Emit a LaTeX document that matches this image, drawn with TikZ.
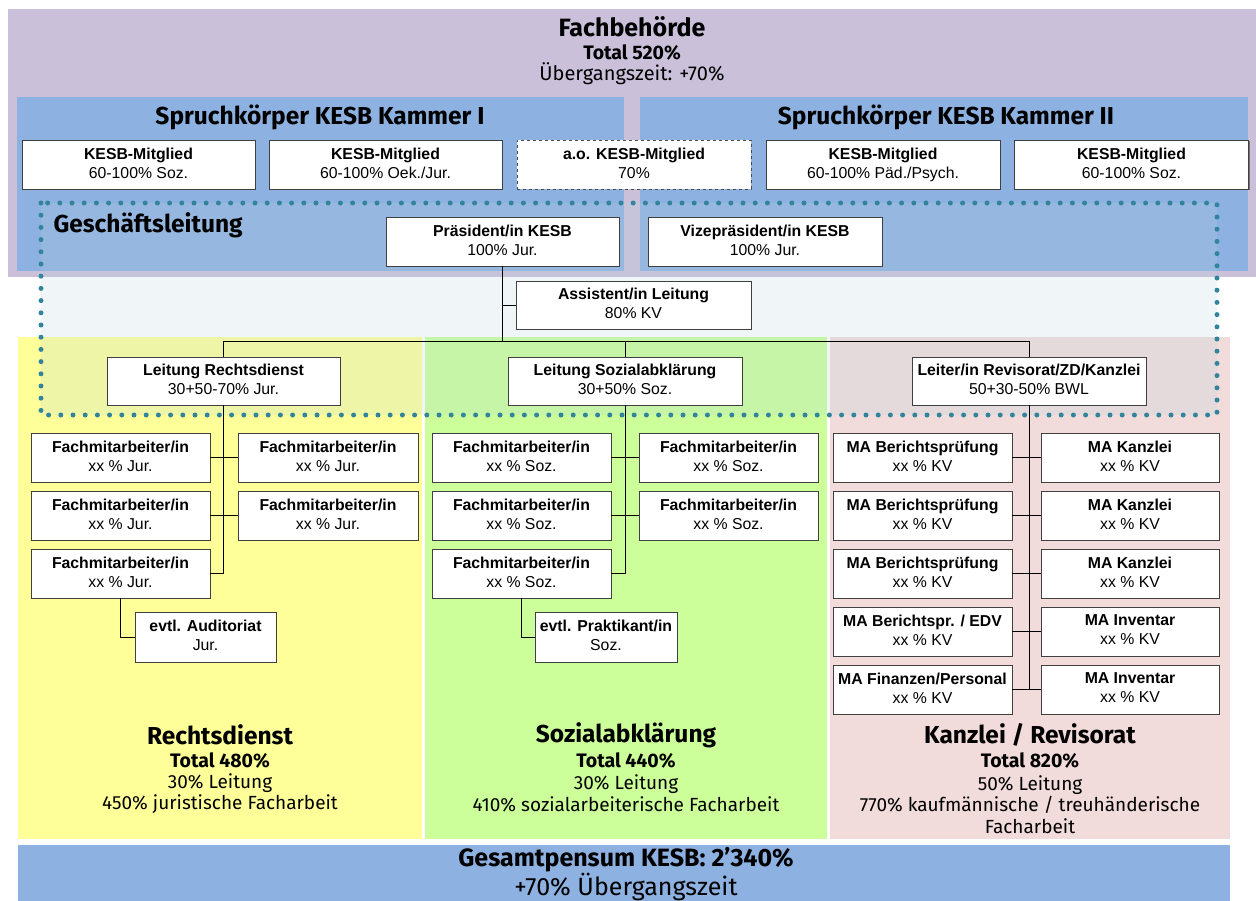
\documentclass[tikz,border=0pt]{standalone}
\usepackage{fontspec}
\setmainfont{Liberation Sans}
\newfontfamily\headfont{Fira Sans}
\usetikzlibrary{shadows}
\definecolor{fbpurple}{RGB}{203,192,218}
\definecolor{kblue}{RGB}{141,177,225}
\definecolor{rdyellow}{RGB}{255,255,153}
\definecolor{sagreen}{RGB}{204,255,153}
\definecolor{kzpink}{RGB}{242,220,219}
\definecolor{gltint}{RGB}{184,212,222}
\definecolor{gldot}{RGB}{49,132,155}
\begin{document}
\begin{tikzpicture}[x=1pt,y=-1pt,
	unit/.style={draw=black!75,fill=white,line width=.6pt,align=center,inner sep=0pt,
		minimum height=49pt,font=\fontsize{15.8}{19}\selectfont,
		execute at begin node={\rule{0pt}{19pt}},execute at end node={\rule[-3.4pt]{0pt}{3.4pt}},
		drop shadow={shadow xshift=1.2pt,shadow yshift=-1.2pt,opacity=1,fill=black!55}},
	aounit/.style={draw=black!70,dashed,fill=white,line width=.5pt,align=center,inner sep=0pt,
		minimum height=49pt,font=\fontsize{15.8}{19}\selectfont,
		execute at begin node={\rule{0pt}{19pt}},execute at end node={\rule[-3.4pt]{0pt}{3.4pt}}},
	bigtitle/.style={font=\headfont\bfseries\fontsize{24.5}{28}\selectfont},
	subtitle/.style={font=\headfont\bfseries\fontsize{19.5}{22}\selectfont},
	infotext/.style={font=\headfont\fontsize{19}{21.5}\selectfont,align=center},
	link/.style={draw=black,line width=.9pt}]
	\useasboundingbox(0,0)rectangle(1256,900);
	% coloured areas
	\fill[fbpurple](8,9)rectangle(1256,277);
	\fill[kblue](17,97)rectangle(624,271);
	\fill[kblue](640,97)rectangle(1248,271);
	\fill[rdyellow](18,337)rectangle(422,839);
	\fill[sagreen](425,337)rectangle(827,839);
	\fill[kzpink](830,337)rectangle(1230,839);
	\fill[kblue](18,845)rectangle(1230,905);
	\fill[gltint,opacity=.21](41,203)rectangle(1217,415);
	% Fachbehoerde
	\node[bigtitle,font=\headfont\bfseries\fontsize{25}{28}\selectfont](fb)at(632,27){Fachbehörde};
	\node[subtitle](fbtot)at(632,52){Total 520\%};
	\node[infotext,font=\headfont\fontsize{20}{22}\selectfont](fbue)at(632,74){Übergangszeit: +70\%};
	\node[bigtitle](k1)at(320,117){Spruchkörper KESB Kammer I};
	\node[bigtitle](k2)at(946,117){Spruchkörper KESB Kammer II};
	\node[unit,minimum width=233pt](km1)at(138.5,164.5){\textbf{KESB-Mitglied}\\60-100\% Soz.};
	\node[unit,minimum width=233pt](km2)at(385.5,164.5){\textbf{KESB-Mitglied}\\60-100\% Oek./Jur.};
	\node[aounit,minimum width=234pt](km3)at(634,164.5){\textbf{a.o. KESB-Mitglied}\\70\%};
	\node[unit,minimum width=234pt](km4)at(883,164.5){\textbf{KESB-Mitglied}\\60-100\% Päd./Psych.};
	\node[unit,minimum width=234pt](km5)at(1131.5,164.5){\textbf{KESB-Mitglied}\\60-100\% Soz.};
	% Geschaeftsleitung
	\node[bigtitle,anchor=west](gl)at(50,225){Geschäftsleitung};
	\node[unit,minimum width=233pt](pres)at(502.5,241.5){\textbf{Präsident/in KESB}\\100\% Jur.};
	\node[unit,minimum width=234pt](vize)at(765,241.5){\textbf{Vizepräsident/in KESB}\\100\% Jur.};
	\node[unit,minimum width=235pt,minimum height=48pt](ass)at(633.5,305){\textbf{Assistent/in Leitung}\\80\% KV};
	\node[unit,minimum width=233pt,minimum height=48pt](lrd)at(223.5,381){\textbf{Leitung Rechtsdienst}\\30+50-70\% Jur.};
	\node[unit,minimum width=234pt,minimum height=48pt](lsa)at(625,381){\textbf{Leitung Sozialabklärung}\\30+50\% Soz.};
	\node[unit,minimum width=234pt,minimum height=48pt](lkz)at(1029,381){\textbf{Leiter/in Revisorat/ZD/Kanzlei}\\50+30-50\% BWL};
	\coordinate(bar)at(0,341);
	\draw[link](pres.south)--(pres.south|-bar);
	\draw[link](pres.south|-ass.west)--(ass.west);
	\draw[link](lrd.north)--(lrd.north|-bar)--(lkz.north|-bar)--(lkz.north);
	\draw[link](lsa.north)--(lsa.north|-bar);
	% Rechtsdienst
	\node[unit,minimum width=179pt](rd1)at(120.5,457.5){\textbf{Fachmitarbeiter/in}\\xx \% Jur.};
	\node[unit,minimum width=180pt](rd2)at(328,457.5){\textbf{Fachmitarbeiter/in}\\xx \% Jur.};
	\node[unit,minimum width=179pt](rd3)at(120.5,515.5){\textbf{Fachmitarbeiter/in}\\xx \% Jur.};
	\node[unit,minimum width=180pt](rd4)at(328,515.5){\textbf{Fachmitarbeiter/in}\\xx \% Jur.};
	\node[unit,minimum width=179pt](rd5)at(120.5,573.5){\textbf{Fachmitarbeiter/in}\\xx \% Jur.};
	\node[unit,minimum width=141pt,minimum height=50pt](aud)at(205.5,637){\textbf{evtl. Auditoriat}\\Jur.};
	\draw[link](lrd.south)--(lrd.south|-rd5.east)--(rd5.east);
	\draw[link](rd1.east)--(rd2.west) (rd3.east)--(rd4.west);
	\draw[link](rd5.south)|-(aud.west);
	% Sozialabklaerung
	\node[unit,minimum width=179pt](sa1)at(521.5,457.5){\textbf{Fachmitarbeiter/in}\\xx \% Soz.};
	\node[unit,minimum width=179pt](sa2)at(728.5,457.5){\textbf{Fachmitarbeiter/in}\\xx \% Soz.};
	\node[unit,minimum width=179pt](sa3)at(521.5,515.5){\textbf{Fachmitarbeiter/in}\\xx \% Soz.};
	\node[unit,minimum width=179pt](sa4)at(728.5,515.5){\textbf{Fachmitarbeiter/in}\\xx \% Soz.};
	\node[unit,minimum width=179pt](sa5)at(521.5,573.5){\textbf{Fachmitarbeiter/in}\\xx \% Soz.};
	\node[unit,minimum width=142pt,minimum height=50pt](prak)at(606,637){\textbf{evtl. Praktikant/in}\\Soz.};
	\draw[link](lsa.south)--(lsa.south|-sa5.east)--(sa5.east);
	\draw[link](sa1.east)--(sa2.west) (sa3.east)--(sa4.west);
	\draw[link](sa5.south)|-(prak.west);
	% Kanzlei / Revisorat
	\node[unit,minimum width=179pt](kz1)at(922.5,457.5){\textbf{MA Berichtsprüfung}\\xx \% KV};
	\node[unit,minimum width=178pt](kz2)at(1130,457.5){\textbf{MA Kanzlei}\\xx \% KV};
	\node[unit,minimum width=179pt](kz3)at(922.5,515.5){\textbf{MA Berichtsprüfung}\\xx \% KV};
	\node[unit,minimum width=178pt](kz4)at(1130,515.5){\textbf{MA Kanzlei}\\xx \% KV};
	\node[unit,minimum width=179pt](kz5)at(922.5,573.5){\textbf{MA Berichtsprüfung}\\xx \% KV};
	\node[unit,minimum width=178pt](kz6)at(1130,573.5){\textbf{MA Kanzlei}\\xx \% KV};
	\node[unit,minimum width=179pt](kz7)at(922.5,631.5){\textbf{MA Berichtspr. / EDV}\\xx \% KV};
	\node[unit,minimum width=178pt](kz8)at(1130,631.5){\textbf{MA Inventar}\\xx \% KV};
	\node[unit,minimum width=179pt](kz9)at(922.5,689.5){\textbf{MA Finanzen/Personal}\\xx \% KV};
	\node[unit,minimum width=178pt](kz10)at(1130,689.5){\textbf{MA Inventar}\\xx \% KV};
	\draw[link](lkz.south)--(lkz.south|-kz9.east);
	\draw[link](kz1.east)--(kz2.west) (kz3.east)--(kz4.west) (kz5.east)--(kz6.west)
		(kz7.east)--(kz8.west) (kz9.east)--(kz10.west);
	% dotted frame
	\draw[gldot,line width=5pt,line cap=round,dash pattern=on 0pt off 12.2pt](41,203)rectangle(1217,415);
	% totals
	\node[bigtitle](rdt)at(220,735){Rechtsdienst};
	\node[subtitle](rdtot)at(220,760){Total 480\%};
	\node[infotext](rdinf)at(220,793.5){30\% Leitung\\450\% juristische Facharbeit};
	\node[bigtitle](sat)at(626,735){Sozialabklärung};
	\node[subtitle](satot)at(626,760){Total 440\%};
	\node[infotext](sainf)at(626,793.5){30\% Leitung\\410\% sozialarbeiterische Facharbeit};
	\node[bigtitle](kzt)at(1030,735){Kanzlei / Revisorat};
	\node[subtitle](kztot)at(1030,760){Total 820\%};
	\node[infotext](kzinf)at(1030,804.5){50\% Leitung\\770\% kaufmännische / treuhänderische\\Facharbeit};
	\node[bigtitle,font=\headfont\bfseries\fontsize{25}{28}\selectfont](ges)at(626,860){Gesamtpensum KESB: 2’340\%};
	\node[infotext,font=\headfont\fontsize{25}{28}\selectfont,anchor=base](gesue)at(626,895){+70\% Übergangszeit};
\end{tikzpicture}
\end{document}
